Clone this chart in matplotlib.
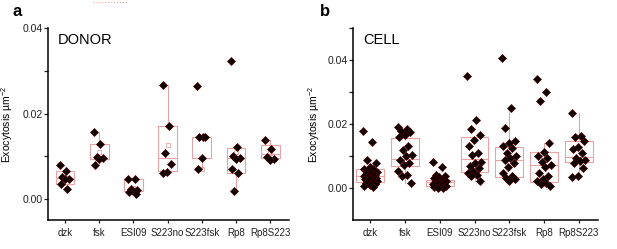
import numpy as np
import matplotlib.pyplot as plt
from matplotlib.lines import Line2D

plt.rcParams['font.family'] = ['Liberation Sans', 'DejaVu Sans']
plt.rcParams['mathtext.fontset'] = 'custom'
plt.rcParams['mathtext.rm'] = 'Liberation Sans'
plt.rcParams['mathtext.it'] = 'Liberation Sans:italic'

groups = ['dzk', 'fsk', 'ESI09', 'S223no', 'S223fsk', 'Rp8', 'Rp8S223']

# panel a - DONOR
donor_pts = [
    [0.0079, 0.0066, 0.0051, 0.0048, 0.0046, 0.0036, 0.0023],
    [0.0158, 0.0129, 0.0099, 0.0095, 0.0093, 0.0080],
    [0.0047, 0.0047, 0.0023, 0.0021, 0.0018, 0.0016, 0.0012],
    [0.0267, 0.0172, 0.0107, 0.0082, 0.0064, 0.0062],
    [0.0264, 0.0146, 0.0145, 0.0145, 0.0097, 0.0070],
    [0.0322, 0.0122, 0.0101, 0.0097, 0.0093, 0.0071, 0.0060, 0.0019],
    [0.0139, 0.0116, 0.0099, 0.0093, 0.0091],
]
donor_q1 = [0.0036, 0.0093, 0.0019, 0.0066, 0.0097, 0.0060, 0.0095]
donor_med = [0.0049, 0.0094, 0.0019, 0.0095, 0.0097, 0.0095, 0.0106]
donor_q3 = [0.0066, 0.0128, 0.0047, 0.0172, 0.0145, 0.0120, 0.0127]
donor_lo = [0.0036, 0.0093, 0.0019, 0.0066, 0.0070, 0.0019, 0.0095]
donor_hi = [0.0066, 0.0158, 0.0047, 0.0267, 0.0145, 0.0120, 0.0139]
donor_mean = [0.0050, 0.0111, 0.0027, 0.0126, 0.0070, 0.0111, 0.0108]

# panel b - CELL
cell_pts = [
    [0.0180, 0.0146, 0.0090, 0.0078, 0.0066, 0.0062, 0.0060, 0.0056, 0.0052,
     0.0048, 0.0045, 0.0042, 0.0040, 0.0038, 0.0036, 0.0034, 0.0032, 0.0030,
     0.0028, 0.0026, 0.0024, 0.0022, 0.0020, 0.0017, 0.0014, 0.0011, 0.0008, 0.0005],
    [0.0190, 0.0185, 0.0178, 0.0175, 0.0167, 0.0160, 0.0133, 0.0119, 0.0105,
     0.0100, 0.0090, 0.0078, 0.0074, 0.0054, 0.0043, 0.0038, 0.0018],
    [0.0082, 0.0067, 0.0043, 0.0038, 0.0034, 0.0031, 0.0028, 0.0026, 0.0024,
     0.0022, 0.0020, 0.0018, 0.0016, 0.0014, 0.0012, 0.0010, 0.0008, 0.0006,
     0.0004, 0.0002, 0.0001],
    [0.0351, 0.0212, 0.0185, 0.0167, 0.0152, 0.0133, 0.0111, 0.0105, 0.0082,
     0.0078, 0.0071, 0.0064, 0.0054, 0.0049, 0.0043, 0.0038, 0.0023],
    [0.0408, 0.0250, 0.0188, 0.0147, 0.0140, 0.0132, 0.0127, 0.0109, 0.0100,
     0.0095, 0.0090, 0.0080, 0.0066, 0.0049, 0.0038, 0.0033, 0.0028, 0.0023],
    [0.0341, 0.0300, 0.0273, 0.0142, 0.0113, 0.0100, 0.0095, 0.0082, 0.0074,
     0.0066, 0.0049, 0.0038, 0.0028, 0.0023, 0.0018, 0.0013, 0.0008],
    [0.0235, 0.0164, 0.0160, 0.0147, 0.0129, 0.0123, 0.0110, 0.0095, 0.0090,
     0.0085, 0.0080, 0.0064, 0.0040, 0.0036],
]
cell_q1 = [0.0020, 0.0069, 0.0009, 0.0052, 0.0036, 0.0021, 0.0082]
cell_med = [0.0040, 0.0093, 0.0020, 0.0093, 0.0090, 0.0074, 0.0097]
cell_q3 = [0.0061, 0.0157, 0.0027, 0.0159, 0.0128, 0.0114, 0.0147]
cell_lo = [0.0020, 0.0018, 0.0009, 0.0023, 0.0023, 0.0008, 0.0036]
cell_hi = [0.0061, 0.0190, 0.0027, 0.0159, 0.0250, 0.0142, 0.0235]

box_col = '#e8a4a4'


def draw_panel(ax, pts, q1, med, q3, lo, hi, means, width, spread, ylim, title):
    stats = []
    for i in range(len(groups)):
        s = dict(q1=q1[i], med=med[i], q3=q3[i], whislo=lo[i], whishi=hi[i],
                 fliers=[], label=groups[i])
        if means is not None:
            s['mean'] = means[i]
        stats.append(s)
    ax.bxp(stats, positions=range(len(groups)), widths=width,
           showmeans=means is not None, showcaps=False,
           boxprops=dict(color=box_col, lw=0.8),
           medianprops=dict(color=box_col, lw=0.8),
           whiskerprops=dict(color=box_col, lw=0.8),
           meanprops=dict(marker='s', ms=2.2, mfc='none', mec=box_col, mew=0.6))
    for i, vals in enumerate(pts):
        n = len(vals)
        off = ((np.arange(n) * 0.618) % 1 - 0.5) * spread
        ax.plot(i + off, vals, 'D', ms=3.6, color='#0a0000', mec='#4a0000',
                mew=0.5, zorder=3)
    ticks = np.arange(0, ylim[1] + 0.0001, 0.01)
    ax.set_xlim(-0.5, 6.55)
    ax.set_ylim(*ylim)
    ax.set_yticks(ticks)
    ax.set_yticklabels(['%.2f' % t if round(t * 100) % 2 == 0 else '' for t in ticks])
    ax.set_xticks(range(len(groups)))
    ax.set_xticklabels(groups)
    for sp in ['top', 'right']:
        ax.spines[sp].set_visible(False)
    ax.spines['left'].set_linewidth(1.1)
    ax.spines['bottom'].set_linewidth(1.1)
    ax.tick_params(axis='y', labelsize=7.5, length=3, width=0.9, pad=1, colors='#222222')
    ax.tick_params(axis='x', labelsize=7, length=2.5, width=0.9, pad=3, colors='#222222')
    ax.text(0.04, 0.94, title, transform=ax.transAxes, fontsize=10.5, va='center')
    ax.set_ylabel('Exocytosis \u00b5m$^{-2}$', fontsize=7.5)


fig = plt.figure(figsize=(6.17, 2.49), dpi=100)
ax1 = fig.add_axes([0.0778, 0.1145, 0.3906, 0.7731])
ax2 = fig.add_axes([0.5721, 0.1145, 0.3970, 0.7731])

draw_panel(ax1, donor_pts, donor_q1, donor_med, donor_q3, donor_lo, donor_hi,
           donor_mean, 0.55, 0.3, (-0.005, 0.04), 'DONOR')
draw_panel(ax2, cell_pts, cell_q1, cell_med, cell_q3, cell_lo, cell_hi,
           None, 0.8, 0.42, (-0.01, 0.05), 'CELL')
ax1.yaxis.set_label_coords(-0.135, 0.5)
ax2.yaxis.set_label_coords(-0.125, 0.5)

fig.text(0.02, 0.955, 'a', fontsize=12, fontweight='bold', va='center')
fig.text(0.518, 0.955, 'b', fontsize=12, fontweight='bold', va='center')
fig.add_artist(Line2D([93 / 617, 127 / 617], [0.992, 0.992], color='#e8a0a0',
                      lw=0.8, ls=':'))

plt.savefig('out.png', dpi=100)
